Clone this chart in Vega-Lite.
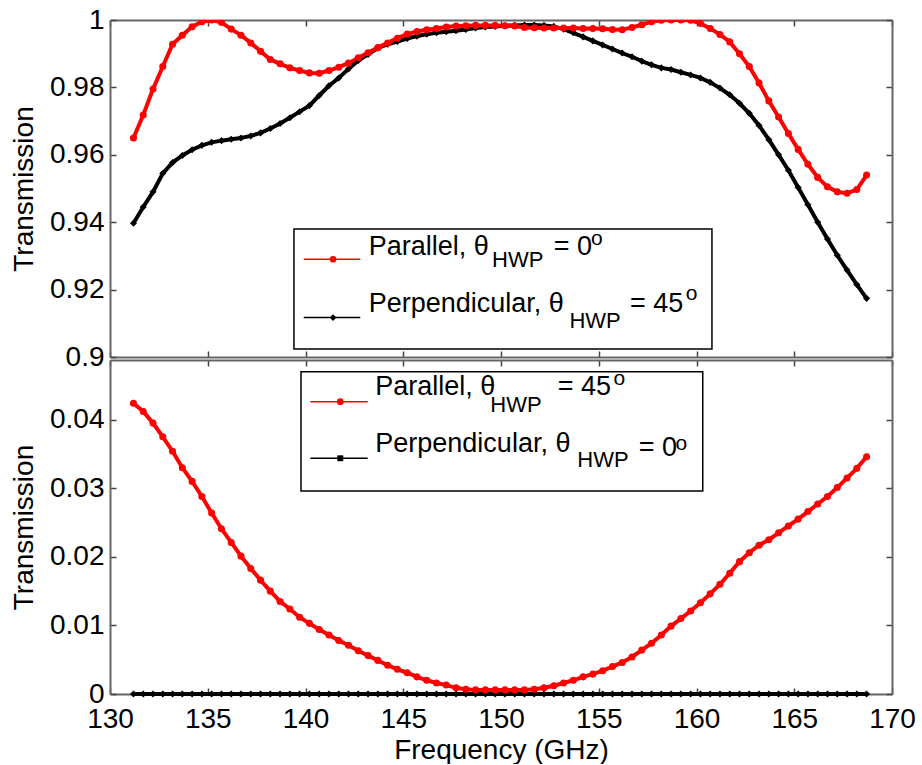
{
  "$schema": "https://vega.github.io/schema/vega-lite/v6.json",
  "background": "#ffffff",
  "padding": {"left": 10, "top": 6, "right": 5, "bottom": 0},
  "datasets": {
    "trans": [
      {"f": 131.2, "p0": 0.965, "s45": 0.9397, "p45": 0.0424, "s0": 0},
      {"f": 131.7, "p0": 0.9718, "s45": 0.9445, "p45": 0.0412, "s0": 0},
      {"f": 132.2, "p0": 0.9795, "s45": 0.949, "p45": 0.0395, "s0": 0},
      {"f": 132.7, "p0": 0.9862, "s45": 0.9545, "p45": 0.0375, "s0": 0},
      {"f": 133.2, "p0": 0.9928, "s45": 0.9577, "p45": 0.0354, "s0": 0},
      {"f": 133.7, "p0": 0.9955, "s45": 0.9598, "p45": 0.033, "s0": 0},
      {"f": 134.2, "p0": 0.998, "s45": 0.9615, "p45": 0.031, "s0": 0},
      {"f": 134.7, "p0": 0.9995, "s45": 0.9628, "p45": 0.0288, "s0": 0},
      {"f": 135.2, "p0": 1.0, "s45": 0.9637, "p45": 0.0264, "s0": 0},
      {"f": 135.7, "p0": 0.9993, "s45": 0.9642, "p45": 0.0241, "s0": 0},
      {"f": 136.2, "p0": 0.9973, "s45": 0.9646, "p45": 0.0221, "s0": 0},
      {"f": 136.7, "p0": 0.9955, "s45": 0.965, "p45": 0.0201, "s0": 0},
      {"f": 137.2, "p0": 0.9932, "s45": 0.9656, "p45": 0.0183, "s0": 0},
      {"f": 137.7, "p0": 0.9907, "s45": 0.9665, "p45": 0.0166, "s0": 0},
      {"f": 138.2, "p0": 0.9883, "s45": 0.9678, "p45": 0.015, "s0": 0},
      {"f": 138.7, "p0": 0.987, "s45": 0.9693, "p45": 0.0135, "s0": 0},
      {"f": 139.2, "p0": 0.9858, "s45": 0.971, "p45": 0.0124, "s0": 0},
      {"f": 139.7, "p0": 0.985, "s45": 0.9728, "p45": 0.0112, "s0": 0},
      {"f": 140.2, "p0": 0.9843, "s45": 0.9746, "p45": 0.0103, "s0": 0},
      {"f": 140.7, "p0": 0.9842, "s45": 0.9776, "p45": 0.0094, "s0": 0},
      {"f": 141.2, "p0": 0.985, "s45": 0.9805, "p45": 0.0086, "s0": 0},
      {"f": 141.7, "p0": 0.986, "s45": 0.9828, "p45": 0.0078, "s0": 0},
      {"f": 142.2, "p0": 0.9872, "s45": 0.9855, "p45": 0.0071, "s0": 0},
      {"f": 142.7, "p0": 0.9888, "s45": 0.988, "p45": 0.0063, "s0": 0},
      {"f": 143.2, "p0": 0.9903, "s45": 0.9898, "p45": 0.0056, "s0": 0},
      {"f": 143.7, "p0": 0.9918, "s45": 0.9917, "p45": 0.0049, "s0": 0},
      {"f": 144.2, "p0": 0.9932, "s45": 0.9928, "p45": 0.0042, "s0": 0},
      {"f": 144.7, "p0": 0.9946, "s45": 0.9936, "p45": 0.0036, "s0": 0},
      {"f": 145.2, "p0": 0.9958, "s45": 0.9945, "p45": 0.0031, "s0": 0},
      {"f": 145.7, "p0": 0.9966, "s45": 0.9952, "p45": 0.0025, "s0": 0},
      {"f": 146.2, "p0": 0.9971, "s45": 0.9958, "p45": 0.002, "s0": 0},
      {"f": 146.7, "p0": 0.9975, "s45": 0.9962, "p45": 0.0016, "s0": 0},
      {"f": 147.2, "p0": 0.9979, "s45": 0.9965, "p45": 0.0013, "s0": 0},
      {"f": 147.7, "p0": 0.9982, "s45": 0.9968, "p45": 0.0009, "s0": 0},
      {"f": 148.2, "p0": 0.9983, "s45": 0.9972, "p45": 0.0007, "s0": 0},
      {"f": 148.7, "p0": 0.9984, "s45": 0.9976, "p45": 0.0006, "s0": 0},
      {"f": 149.2, "p0": 0.9984, "s45": 0.9979, "p45": 0.0006, "s0": 0},
      {"f": 149.7, "p0": 0.9984, "s45": 0.9981, "p45": 0.0006, "s0": 0},
      {"f": 150.2, "p0": 0.9983, "s45": 0.9983, "p45": 0.0006, "s0": 0},
      {"f": 150.7, "p0": 0.9982, "s45": 0.9984, "p45": 0.0006, "s0": 0},
      {"f": 151.2, "p0": 0.9978, "s45": 0.9985, "p45": 0.0006, "s0": 0},
      {"f": 151.7, "p0": 0.9977, "s45": 0.9985, "p45": 0.0007, "s0": 0},
      {"f": 152.2, "p0": 0.9976, "s45": 0.9984, "p45": 0.0009, "s0": 0},
      {"f": 152.7, "p0": 0.9976, "s45": 0.9981, "p45": 0.0012, "s0": 0},
      {"f": 153.2, "p0": 0.9976, "s45": 0.9973, "p45": 0.0016, "s0": 0},
      {"f": 153.7, "p0": 0.9976, "s45": 0.9962, "p45": 0.002, "s0": 0},
      {"f": 154.2, "p0": 0.9975, "s45": 0.995, "p45": 0.0025, "s0": 0},
      {"f": 154.7, "p0": 0.9975, "s45": 0.9938, "p45": 0.0029, "s0": 0},
      {"f": 155.2, "p0": 0.9974, "s45": 0.9926, "p45": 0.0034, "s0": 0},
      {"f": 155.7, "p0": 0.9972, "s45": 0.9914, "p45": 0.004, "s0": 0},
      {"f": 156.2, "p0": 0.9971, "s45": 0.9902, "p45": 0.0046, "s0": 0},
      {"f": 156.7, "p0": 0.9978, "s45": 0.9891, "p45": 0.0054, "s0": 0},
      {"f": 157.2, "p0": 0.9986, "s45": 0.9878, "p45": 0.0064, "s0": 0},
      {"f": 157.7, "p0": 0.9995, "s45": 0.9867, "p45": 0.0074, "s0": 0},
      {"f": 158.2, "p0": 0.9999, "s45": 0.9858, "p45": 0.0086, "s0": 0},
      {"f": 158.7, "p0": 1.0, "s45": 0.9853, "p45": 0.0099, "s0": 0},
      {"f": 159.2, "p0": 1.0, "s45": 0.9845, "p45": 0.011, "s0": 0},
      {"f": 159.7, "p0": 0.9999, "s45": 0.9837, "p45": 0.0121, "s0": 0},
      {"f": 160.2, "p0": 0.999, "s45": 0.9828, "p45": 0.0133, "s0": 0},
      {"f": 160.7, "p0": 0.9975, "s45": 0.9815, "p45": 0.0146, "s0": 0},
      {"f": 161.2, "p0": 0.9957, "s45": 0.9798, "p45": 0.016, "s0": 0},
      {"f": 161.7, "p0": 0.9935, "s45": 0.9778, "p45": 0.0176, "s0": 0},
      {"f": 162.2, "p0": 0.99, "s45": 0.9753, "p45": 0.0193, "s0": 0},
      {"f": 162.7, "p0": 0.9862, "s45": 0.9723, "p45": 0.0206, "s0": 0},
      {"f": 163.2, "p0": 0.9813, "s45": 0.9687, "p45": 0.0217, "s0": 0},
      {"f": 163.7, "p0": 0.976, "s45": 0.9645, "p45": 0.0225, "s0": 0},
      {"f": 164.2, "p0": 0.9712, "s45": 0.96, "p45": 0.0235, "s0": 0},
      {"f": 164.7, "p0": 0.9663, "s45": 0.9554, "p45": 0.0245, "s0": 0},
      {"f": 165.2, "p0": 0.9616, "s45": 0.9503, "p45": 0.0255, "s0": 0},
      {"f": 165.7, "p0": 0.9572, "s45": 0.9452, "p45": 0.0266, "s0": 0},
      {"f": 166.2, "p0": 0.9533, "s45": 0.94, "p45": 0.0277, "s0": 0},
      {"f": 166.7, "p0": 0.9505, "s45": 0.935, "p45": 0.0288, "s0": 0},
      {"f": 167.2, "p0": 0.949, "s45": 0.9302, "p45": 0.0301, "s0": 0},
      {"f": 167.7, "p0": 0.9486, "s45": 0.9258, "p45": 0.0315, "s0": 0},
      {"f": 168.2, "p0": 0.9497, "s45": 0.9215, "p45": 0.0329, "s0": 0},
      {"f": 168.7, "p0": 0.954, "s45": 0.9174, "p45": 0.0346, "s0": 0}
    ]
  },
  "vconcat": [
    {
      "width": 782,
      "height": 337,
      "data": {"values": [{}]},
      "layer": [
        {
          "data": {"name": "trans"},
          "transform": [{"fold": ["s45", "p0"], "as": ["series", "v"]}],
          "mark": {"type": "line", "strokeWidth": 4, "clip": true},
          "encoding": {
            "x": {"field": "f", "type": "quantitative", "scale": {"domain": [130, 170], "nice": false, "zero": false},
                  "axis": {"orient": "bottom", "values": [130, 135, 140, 145, 150, 155, 160, 165, 170], "labels": false, "title": null}},
            "y": {"field": "v", "type": "quantitative", "scale": {"domain": [0.9, 1], "nice": false, "zero": false},
                  "axis": {"orient": "left", "values": [0.9, 0.92, 0.94, 0.96, 0.98, 1], "format": "~g", "title": "Transmission"}},
            "color": {"field": "series", "type": "nominal", "scale": {"domain": ["p0", "s45"], "range": ["#ff0000", "#000000"]}, "legend": null}
          }
        },
        {
          "data": {"name": "trans"},
          "transform": [{"fold": ["s45", "p0"], "as": ["series", "v"]}],
          "mark": {"type": "point", "filled": true, "opacity": 1, "size": 50, "clip": true},
          "encoding": {
            "x": {"field": "f", "type": "quantitative", "axis": null},
            "y": {"field": "v", "type": "quantitative", "axis": null},
            "color": {"field": "series", "type": "nominal", "legend": null},
            "shape": {"field": "series", "type": "nominal", "scale": {"domain": ["p0", "s45"], "range": ["circle", "diamond"]}, "legend": null}
          }
        },
        {
          "mark": {"type": "rect", "fill": "#ffffff", "stroke": "#000000", "strokeWidth": 1.5},
          "encoding": {
            "x": {"datum": 139.41, "type": "quantitative", "axis": {"orient": "top", "values": [130, 135, 140, 145, 150, 155, 160, 165, 170], "labels": false, "title": null}},
            "x2": {"datum": 160.79},
            "y": {"datum": 0.938, "type": "quantitative", "axis": {"orient": "right", "values": [0.9, 0.92, 0.94, 0.96, 0.98, 1], "labels": false, "title": null}},
            "y2": {"datum": 0.9024}
          }
        },
        {
          "mark": {"type": "rule", "color": "#ff0000", "strokeWidth": 1.5},
          "encoding": {"x": {"datum": 139.91, "type": "quantitative", "axis": null}, "x2": {"datum": 142.8}, "y": {"datum": 0.929, "type": "quantitative", "axis": null}}
        },
        {
          "mark": {"type": "point", "filled": true, "opacity": 1, "color": "#ff0000", "shape": "circle", "size": 45},
          "encoding": {"x": {"datum": 141.41, "type": "quantitative", "axis": null}, "y": {"datum": 0.929, "type": "quantitative", "axis": null}}
        },
        {
          "mark": {"type": "rule", "color": "#000000", "strokeWidth": 1.5},
          "encoding": {"x": {"datum": 139.91, "type": "quantitative", "axis": null}, "x2": {"datum": 142.8}, "y": {"datum": 0.9117, "type": "quantitative", "axis": null}}
        },
        {
          "mark": {"type": "point", "filled": true, "opacity": 1, "color": "#000000", "shape": "diamond", "size": 45},
          "encoding": {"x": {"datum": 141.41, "type": "quantitative", "axis": null}, "y": {"datum": 0.9117, "type": "quantitative", "axis": null}}
        },
        {
          "mark": {"type": "text", "align": "left", "baseline": "alphabetic", "font": "Liberation Sans", "fontSize": 27, "color": "#000000"},
          "encoding": {"x": {"datum": 143.23, "type": "quantitative", "axis": null}, "y": {"datum": 0.9303, "type": "quantitative", "axis": null}, "text": {"value": "Parallel, θ"}}
        },
        {
          "mark": {"type": "text", "align": "left", "baseline": "alphabetic", "font": "Liberation Sans", "fontSize": 22, "color": "#000000"},
          "encoding": {"x": {"datum": 149.54, "type": "quantitative", "axis": null}, "y": {"datum": 0.9268, "type": "quantitative", "axis": null}, "text": {"value": "HWP"}}
        },
        {
          "mark": {"type": "text", "align": "left", "baseline": "alphabetic", "font": "Liberation Sans", "fontSize": 27, "color": "#000000"},
          "encoding": {"x": {"datum": 152.7, "type": "quantitative", "axis": null}, "y": {"datum": 0.9303, "type": "quantitative", "axis": null}, "text": {"value": "= 0"}}
        },
        {
          "mark": {"type": "text", "align": "left", "baseline": "alphabetic", "font": "Liberation Sans", "fontSize": 21, "color": "#000000"},
          "encoding": {"x": {"datum": 154.6, "type": "quantitative", "axis": null}, "y": {"datum": 0.9332, "type": "quantitative", "axis": null}, "text": {"value": "o"}}
        },
        {
          "mark": {"type": "text", "align": "left", "baseline": "alphabetic", "font": "Liberation Sans", "fontSize": 27, "color": "#000000"},
          "encoding": {"x": {"datum": 143.23, "type": "quantitative", "axis": null}, "y": {"datum": 0.9134, "type": "quantitative", "axis": null}, "text": {"value": "Perpendicular, θ"}}
        },
        {
          "mark": {"type": "text", "align": "left", "baseline": "alphabetic", "font": "Liberation Sans", "fontSize": 22, "color": "#000000"},
          "encoding": {"x": {"datum": 153.5, "type": "quantitative", "axis": null}, "y": {"datum": 0.9086, "type": "quantitative", "axis": null}, "text": {"value": "HWP"}}
        },
        {
          "mark": {"type": "text", "align": "left", "baseline": "alphabetic", "font": "Liberation Sans", "fontSize": 27, "color": "#000000"},
          "encoding": {"x": {"datum": 156.6, "type": "quantitative", "axis": null}, "y": {"datum": 0.9134, "type": "quantitative", "axis": null}, "text": {"value": "= 45"}}
        },
        {
          "mark": {"type": "text", "align": "left", "baseline": "alphabetic", "font": "Liberation Sans", "fontSize": 21, "color": "#000000"},
          "encoding": {"x": {"datum": 159.45, "type": "quantitative", "axis": null}, "y": {"datum": 0.9169, "type": "quantitative", "axis": null}, "text": {"value": "o"}}
        }
      ],
      "resolve": {"axis": {"x": "independent", "y": "independent"}}
    },
    {
      "width": 782,
      "height": 334,
      "data": {"values": [{}]},
      "layer": [
        {
          "data": {"name": "trans"},
          "transform": [{"fold": ["s0", "p45"], "as": ["series", "v"]}],
          "mark": {"type": "line", "strokeWidth": 4},
          "encoding": {
            "x": {"field": "f", "type": "quantitative", "scale": {"domain": [130, 170], "nice": false, "zero": false},
                  "axis": {"orient": "bottom", "values": [130, 135, 140, 145, 150, 155, 160, 165, 170], "format": "d", "title": "Frequency (GHz)", "labelPadding": 17, "titlePadding": 3}},
            "y": {"field": "v", "type": "quantitative", "scale": {"domain": [0, 0.0487], "nice": false, "zero": false},
                  "axis": {"orient": "left", "values": [0, 0.01, 0.02, 0.03, 0.04], "format": "~g", "title": "Transmission"}},
            "color": {"field": "series", "type": "nominal", "scale": {"domain": ["p45", "s0"], "range": ["#ff0000", "#000000"]}, "legend": null}
          }
        },
        {
          "data": {"name": "trans"},
          "transform": [{"fold": ["s0", "p45"], "as": ["series", "v"]}],
          "mark": {"type": "point", "filled": true, "opacity": 1, "size": 50},
          "encoding": {
            "x": {"field": "f", "type": "quantitative", "axis": null},
            "y": {"field": "v", "type": "quantitative", "axis": null},
            "color": {"field": "series", "type": "nominal", "legend": null},
            "shape": {"field": "series", "type": "nominal", "scale": {"domain": ["p45", "s0"], "range": ["circle", "square"]}, "legend": null}
          }
        },
        {
          "mark": {"type": "rect", "fill": "#ffffff", "stroke": "#000000", "strokeWidth": 1.5},
          "encoding": {
            "x": {"datum": 139.77, "type": "quantitative", "axis": {"orient": "top", "values": [130, 135, 140, 145, 150, 155, 160, 165, 170], "labels": false, "title": null}},
            "x2": {"datum": 160.32},
            "y": {"datum": 0.047, "type": "quantitative", "axis": {"orient": "right", "values": [0, 0.01, 0.02, 0.03, 0.04], "labels": false, "title": null}},
            "y2": {"datum": 0.0296}
          }
        },
        {
          "mark": {"type": "rule", "color": "#ff0000", "strokeWidth": 1.5},
          "encoding": {"x": {"datum": 140.25, "type": "quantitative", "axis": null}, "x2": {"datum": 143.18}, "y": {"datum": 0.04262, "type": "quantitative", "axis": null}}
        },
        {
          "mark": {"type": "point", "filled": true, "opacity": 1, "color": "#ff0000", "shape": "circle", "size": 45},
          "encoding": {"x": {"datum": 141.78, "type": "quantitative", "axis": null}, "y": {"datum": 0.04262, "type": "quantitative", "axis": null}}
        },
        {
          "mark": {"type": "rule", "color": "#000000", "strokeWidth": 1.5},
          "encoding": {"x": {"datum": 140.25, "type": "quantitative", "axis": null}, "x2": {"datum": 143.18}, "y": {"datum": 0.03437, "type": "quantitative", "axis": null}}
        },
        {
          "mark": {"type": "point", "filled": true, "opacity": 1, "color": "#000000", "shape": "square", "size": 35},
          "encoding": {"x": {"datum": 141.78, "type": "quantitative", "axis": null}, "y": {"datum": 0.03437, "type": "quantitative", "axis": null}}
        },
        {
          "mark": {"type": "text", "align": "left", "baseline": "alphabetic", "font": "Liberation Sans", "fontSize": 27, "color": "#000000"},
          "encoding": {"x": {"datum": 143.57, "type": "quantitative", "axis": null}, "y": {"datum": 0.0436, "type": "quantitative", "axis": null}, "text": {"value": "Parallel, θ"}}
        },
        {
          "mark": {"type": "text", "align": "left", "baseline": "alphabetic", "font": "Liberation Sans", "fontSize": 22, "color": "#000000"},
          "encoding": {"x": {"datum": 149.45, "type": "quantitative", "axis": null}, "y": {"datum": 0.04116, "type": "quantitative", "axis": null}, "text": {"value": "HWP"}}
        },
        {
          "mark": {"type": "text", "align": "left", "baseline": "alphabetic", "font": "Liberation Sans", "fontSize": 27, "color": "#000000"},
          "encoding": {"x": {"datum": 152.9, "type": "quantitative", "axis": null}, "y": {"datum": 0.0436, "type": "quantitative", "axis": null}, "text": {"value": "= 45"}}
        },
        {
          "mark": {"type": "text", "align": "left", "baseline": "alphabetic", "font": "Liberation Sans", "fontSize": 21, "color": "#000000"},
          "encoding": {"x": {"datum": 155.75, "type": "quantitative", "axis": null}, "y": {"datum": 0.04506, "type": "quantitative", "axis": null}, "text": {"value": "o"}}
        },
        {
          "mark": {"type": "text", "align": "left", "baseline": "alphabetic", "font": "Liberation Sans", "fontSize": 27, "color": "#000000"},
          "encoding": {"x": {"datum": 143.57, "type": "quantitative", "axis": null}, "y": {"datum": 0.03533, "type": "quantitative", "axis": null}, "text": {"value": "Perpendicular, θ"}}
        },
        {
          "mark": {"type": "text", "align": "left", "baseline": "alphabetic", "font": "Liberation Sans", "fontSize": 22, "color": "#000000"},
          "encoding": {"x": {"datum": 153.9, "type": "quantitative", "axis": null}, "y": {"datum": 0.03314, "type": "quantitative", "axis": null}, "text": {"value": "HWP"}}
        },
        {
          "mark": {"type": "text", "align": "left", "baseline": "alphabetic", "font": "Liberation Sans", "fontSize": 27, "color": "#000000"},
          "encoding": {"x": {"datum": 157.04, "type": "quantitative", "axis": null}, "y": {"datum": 0.0347, "type": "quantitative", "axis": null}, "text": {"value": "= 0"}}
        },
        {
          "mark": {"type": "text", "align": "left", "baseline": "alphabetic", "font": "Liberation Sans", "fontSize": 21, "color": "#000000"},
          "encoding": {"x": {"datum": 158.92, "type": "quantitative", "axis": null}, "y": {"datum": 0.03558, "type": "quantitative", "axis": null}, "text": {"value": "o"}}
        }
      ],
      "resolve": {"axis": {"x": "independent", "y": "independent"}}
    }
  ],
  "spacing": 3,
  "bounds": "flush",
  "config": {
    "view": {"stroke": null},
    "axis": {
      "labelFont": "Liberation Sans",
      "labelFontSize": 28,
      "labelColor": "#000000",
      "titleFont": "Liberation Sans",
      "titleFontSize": 28,
      "titleFontWeight": "normal",
      "titleColor": "#000000",
      "domainColor": "#666666",
      "domainWidth": 2,
      "tickColor": "#444444",
      "tickWidth": 1.5,
      "tickSize": -6,
      "grid": false,
      "labelFlush": false,
      "labelOverlap": false,
      "labelPadding": 12,
      "titlePadding": 11
    }
  }
}
